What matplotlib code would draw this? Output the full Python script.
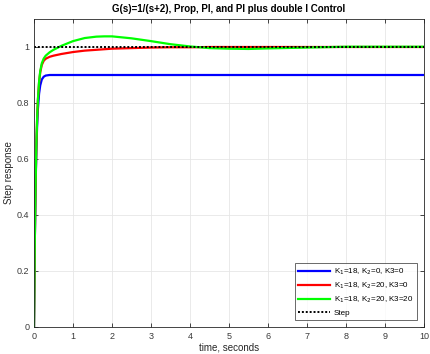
import matplotlib
matplotlib.use("Agg")
import matplotlib.pyplot as plt

plt.rcParams['font.family'] = ['Liberation Sans', 'DejaVu Sans']

# Sample times (s) and step-response values for each controller
t = [0, 0.02, 0.04, 0.06, 0.08, 0.1, 0.13, 0.16, 0.2, 0.25, 0.3, 0.4, 0.5,
     0.7, 1.0, 1.3, 1.6, 1.8, 2.0, 2.5, 3.0, 3.5, 4.0, 4.5, 5.0, 5.5, 6.0,
     7.0, 8.0, 9.0, 10.0]

y_prop = [0, 0.297, 0.496, 0.629, 0.718, 0.778, 0.833, 0.863, 0.884, 0.894,
          0.898, 0.900, 0.900, 0.900, 0.900, 0.900, 0.900, 0.900, 0.900, 0.900,
          0.900, 0.900, 0.900, 0.900, 0.900, 0.900, 0.900, 0.900, 0.900, 0.900,
          0.900]

y_pi = [0, 0.300, 0.506, 0.646, 0.743, 0.810, 0.873, 0.910, 0.936, 0.951,
        0.958, 0.965, 0.969, 0.975, 0.982, 0.987, 0.990, 0.992, 0.994, 0.996,
        0.998, 0.999, 0.999, 1.000, 1.000, 1.000, 1.000, 1.000, 1.000, 1.000,
        1.000]

y_pii = [0, 0.300, 0.506, 0.647, 0.744, 0.812, 0.876, 0.914, 0.942, 0.959,
         0.969, 0.981, 0.990, 1.004, 1.021, 1.032, 1.037, 1.038, 1.038, 1.031,
         1.021, 1.010, 1.002, 0.996, 0.994, 0.993, 0.995, 0.998, 1.001, 1.001,
         1.001]

t_step = [0, 10]
y_step = [1, 1]

labels = ['K$_1$=18, K$_2$=0, K3=0',
          'K$_1$=18, K$_2$=20, K3=0',
          'K$_1$=18, K$_2$=20, K3=20',
          'Step']

fig = plt.figure(figsize=(4.30, 3.54), dpi=100)
ax = fig.add_axes([34/430, 1 - 327/354, 390/430, 308/354])

ax.plot(t, y_prop, color='#0000ff', lw=1.6, label=labels[0])
ax.plot(t, y_pi, color='#ff0000', lw=1.6, label=labels[1])
ax.plot(t, y_pii, color='#00ff00', lw=1.6, label=labels[2])
ax.plot(t_step, y_step, color='black', lw=1.4, ls=(0, (1, 1)), label=labels[3])

ax.set_xlim(0, 10)
ax.set_ylim(0, 1.1)
ax.set_xticks(range(0, 11))
ax.set_yticks([0, 0.2, 0.4, 0.6, 0.8, 1.0])
ax.set_yticklabels(['0', '0.2', '0.4', '0.6', '0.8', '1'])

tick_col = '#262626'
ax.grid(True, color='#e6e6e6', lw=0.6)
ax.set_axisbelow(True)
for s in ax.spines.values():
    s.set_color(tick_col)
    s.set_linewidth(0.6)
ax.tick_params(direction='in', length=3, width=0.6, colors=tick_col,
               labelsize=6.5, top=True, right=True, pad=3.5)
for lbl in ax.get_xticklabels() + ax.get_yticklabels():
    lbl.set_color('#3a3a3a')

ax.set_xlabel('time, seconds', fontsize=7, color=tick_col, labelpad=1.5)
ax.set_ylabel('Step response', fontsize=7, color=tick_col, labelpad=2)
ax.set_title('G(s)=1/(s+2), Prop, PI, and PI plus double I Control',
             fontsize=7, fontweight='bold', color='black', pad=5)

leg = ax.legend(loc='lower right', fontsize=5.8, frameon=True, fancybox=False,
                edgecolor=tick_col, handlelength=4.0, borderaxespad=0.9,
                labelspacing=0.45, borderpad=0.4, handletextpad=0.5)
leg.get_frame().set_linewidth(0.6)

fig.savefig('out.png', dpi=100)
